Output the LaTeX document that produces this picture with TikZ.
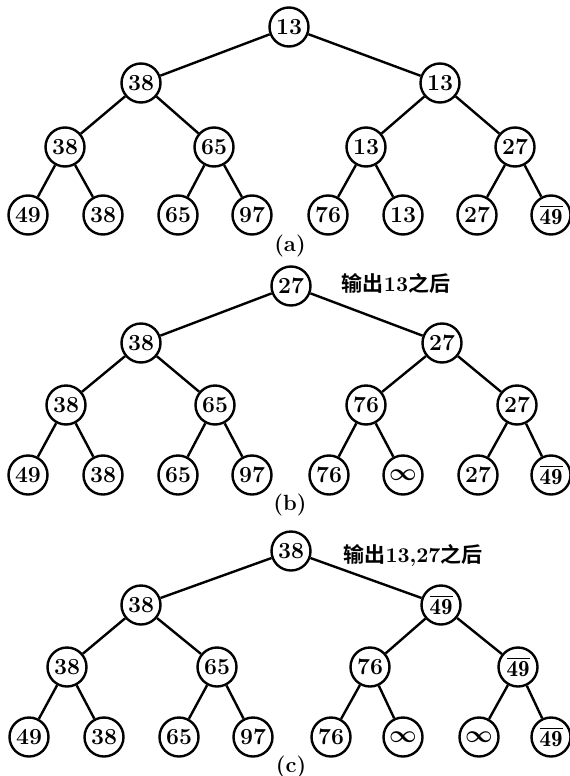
\documentclass[tikz,border=0pt]{standalone}
\usepackage{amsmath}
\usepackage{fontspec}
\newfontfamily\cjk{Noto Sans CJK SC Bold}
\newcommand{\barn}{$\overline{\mathbf{49}}$}
\newcommand{\infn}{{\boldmath$\infty$}}

\begin{document}
\begin{tikzpicture}[x=0.5pt, y=-0.5pt,
    key/.style={circle, draw, line width=1.2pt, minimum size=19.5pt, inner sep=0pt, font=\fontsize{11.5}{13}\bfseries},
    link/.style={line width=1.2pt},
    treecap/.style={font=\fontsize{11}{13}\bfseries},
    note/.style={font=\fontsize{10.5}{13}\selectfont}]
        \useasboundingbox (0,0) rectangle (569,776);
        % (a)
        \node[key] (a1) at (289,27) {13};
        \node[key] (a2) at (141,83) {38};
        \node[key] (a3) at (440,83) {13};
        \node[key] (a4) at (65,147) {38};
        \node[key] (a5) at (214,147) {65};
        \node[key] (a6) at (366,147) {13};
        \node[key] (a7) at (515,147) {27};
        \node[key] (a8) at (28,215) {49};
        \node[key] (a9) at (103,215) {38};
        \node[key] (a10) at (178,215) {65};
        \node[key] (a11) at (252,215) {97};
        \node[key] (a12) at (328,215) {76};
        \node[key] (a13) at (403,215) {13};
        \node[key] (a14) at (477,215) {27};
        \node[key] (a15) at (551,215) {\barn};
        \node[treecap] (capa) at (290,246) {(a)};
        \draw[link] (a1) -- (a2) (a1) -- (a3) (a2) -- (a4) (a2) -- (a5) (a3) -- (a6) (a3) -- (a7)
          (a4) -- (a8) (a4) -- (a9) (a5) -- (a10) (a5) -- (a11)
          (a6) -- (a12) (a6) -- (a13) (a7) -- (a14) (a7) -- (a15);
        % (b)
        \node[key] (b1) at (291,286) {27};
        \node[key] (b2) at (141,343) {38};
        \node[key] (b3) at (442,343) {27};
        \node[key] (b4) at (66,405) {38};
        \node[key] (b5) at (215,405) {65};
        \node[key] (b6) at (366,405) {76};
        \node[key] (b7) at (517,405) {27};
        \node[key] (b8) at (28,475) {49};
        \node[key] (b9) at (103,475) {38};
        \node[key] (b10) at (178,475) {65};
        \node[key] (b11) at (252,475) {97};
        \node[key] (b12) at (329,475) {76};
        \node[key] (b13) at (403,475) {\infn};
        \node[key] (b14) at (478,475) {27};
        \node[key] (b15) at (551,475) {\barn};
        \node[treecap] (capb) at (290,505) {(b)};
        \node[note] (noteb) at (396,283) {{\cjk 输出}\textbf{13}{\cjk 之后}};
        \draw[link] (b1) -- (b2) (b1) -- (b3) (b2) -- (b4) (b2) -- (b5) (b3) -- (b6) (b3) -- (b7)
          (b4) -- (b8) (b4) -- (b9) (b5) -- (b10) (b5) -- (b11)
          (b6) -- (b12) (b6) -- (b13) (b7) -- (b14) (b7) -- (b15);
        % (c)
        \node[key] (c1) at (291,551) {38};
        \node[key] (c2) at (141,605) {38};
        \node[key] (c3) at (441,605) {\barn};
        \node[key] (c4) at (67,667) {38};
        \node[key] (c5) at (217,667) {65};
        \node[key] (c6) at (370,667) {76};
        \node[key] (c7) at (518,667) {\barn};
        \node[key] (c8) at (29,737) {49};
        \node[key] (c9) at (104,737) {38};
        \node[key] (c10) at (179,737) {65};
        \node[key] (c11) at (253,737) {97};
        \node[key] (c12) at (331,737) {76};
        \node[key] (c13) at (403,737) {\infn};
        \node[key] (c14) at (479,737) {\infn};
        \node[key] (c15) at (551,737) {\barn};
        \node[treecap] (capc) at (291,767) {(c)};
        \node[note] (notec) at (413,555) {{\cjk 输出}\textbf{13,27}{\cjk 之后}};
        \draw[link] (c1) -- (c2) (c1) -- (c3) (c2) -- (c4) (c2) -- (c5) (c3) -- (c6) (c3) -- (c7)
          (c4) -- (c8) (c4) -- (c9) (c5) -- (c10) (c5) -- (c11)
          (c6) -- (c12) (c6) -- (c13) (c7) -- (c14) (c7) -- (c15);
      \end{tikzpicture}
\end{document}
